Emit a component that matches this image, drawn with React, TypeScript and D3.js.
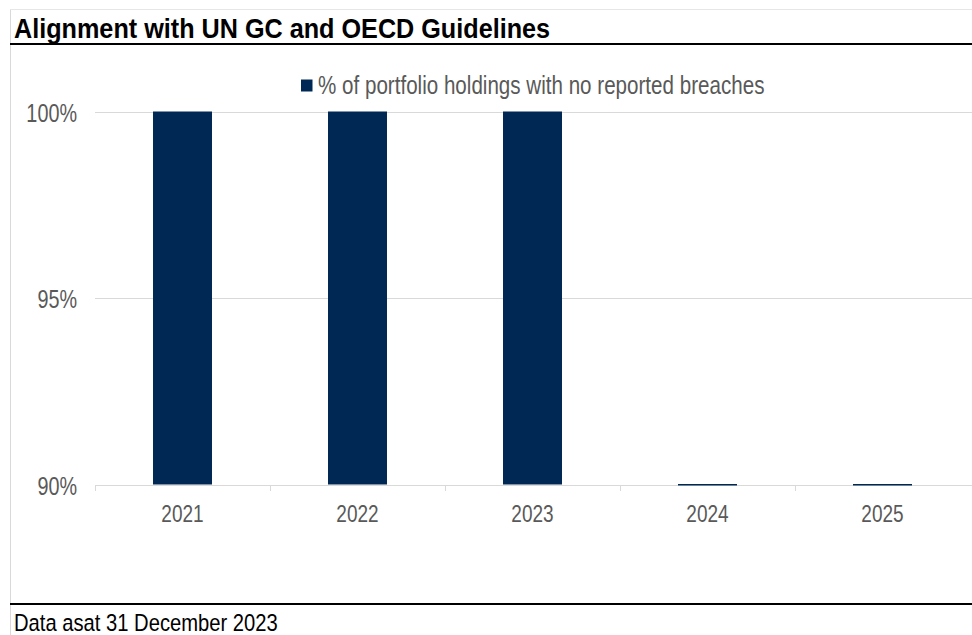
import React from "react";
import * as d3 from "d3";

const categories = ["2021", "2022", "2023", "2024", "2025"];
const seriesName = "% of portfolio holdings with no reported breaches";
const values = [100, 100, 100, 0, 0];
const yTicks = [90, 95, 100];
const title = "Alignment with UN GC and OECD Guidelines";
const footer = "Data asat 31 December 2023";

function T(props: { x: number; y: number; size: number; sy: number; anchor?: string; fill?: string; weight?: string; children: React.ReactNode }) {
  return (
    <text
      transform={`translate(${props.x},${props.y}) scale(1,${props.sy})`}
      fontSize={props.size}
      textAnchor={props.anchor || "start"}
      fill={props.fill || "#000"}
      fontWeight={props.weight || "normal"}
    >
      {props.children}
    </text>
  );
}

export default function App() {
  const W = 972, H = 635;
  const x = d3.scaleBand<string>().domain(categories).range([95, 970]).paddingInner(0.663).paddingOuter(0.3315);
  const xTicks = d3.scaleBand<string>().domain(categories).range([95, 970]);
  const y = d3.scaleLinear().domain([90, 100]).range([484.5, 111.5]).clamp(true);
  const font = "Liberation Sans, Arial, sans-serif";
  const color = "#002855";
  return (
    <svg width={W} height={H} style={{ position: "absolute", left: 0, top: 0, background: "#fff" }} fontFamily={font}>
      <rect x={0} y={0} width={W} height={H} fill="#fff" />
      {/* frame */}
      <line x1={10.5} x2={10.5} y1={9} y2={H} stroke="#d9d9d9" />
      <line x1={10} x2={W} y1={9.5} y2={9.5} stroke="#e6e6e6" />
      <T x={14} y={38} size={25.2} sy={1.08} weight="bold">{title}</T>
      <line x1={10} x2={W} y1={44} y2={44} stroke="#000" strokeWidth={2} />
      {/* gridlines */}
      {yTicks.map((t) => (
        <g key={t}>
          <line x1={95} x2={W} y1={Math.round(y(t)) + 0.5} y2={Math.round(y(t)) + 0.5} stroke="#d9d9d9" strokeWidth={1.2} />
          <T x={77} y={y(t) + 10} size={19.8} sy={1.3} fill="#595959" anchor="end">{t}%</T>
        </g>
      ))}
      {/* x ticks */}
      {categories.map((c) => (
        <line key={c} x1={xTicks(c)! + 0.5} x2={xTicks(c)! + 0.5} y1={485} y2={491} stroke="#d9d9d9" />
      ))}
      {/* bars */}
      {categories.map((c, i) => {
        const top = y(values[i]);
        const h = Math.max(y(90) - top, 1.5);
        return <rect key={c} x={x(c)} y={y(90) - h + (values[i] > 90 ? 0 : 1)} width={x.bandwidth()} height={h} fill={color} />;
      })}
      {categories.map((c) => (
        <T key={c} x={xTicks(c)! + xTicks.bandwidth() / 2} y={521.7} size={19} sy={1.24} fill="#595959" anchor="middle">{c}</T>
      ))}
      {/* legend */}
      <rect x={301} y={79.5} width={11.5} height={12} fill={color} />
      <T x={318} y={93.5} size={20.6} sy={1.22} fill="#595959">{seriesName}</T>
      {/* footer */}
      <line x1={10} x2={W} y1={604} y2={604} stroke="#000" strokeWidth={2} />
      <T x={14} y={631} size={20.2} sy={1.2}>{footer}</T>
    </svg>
  );
}
